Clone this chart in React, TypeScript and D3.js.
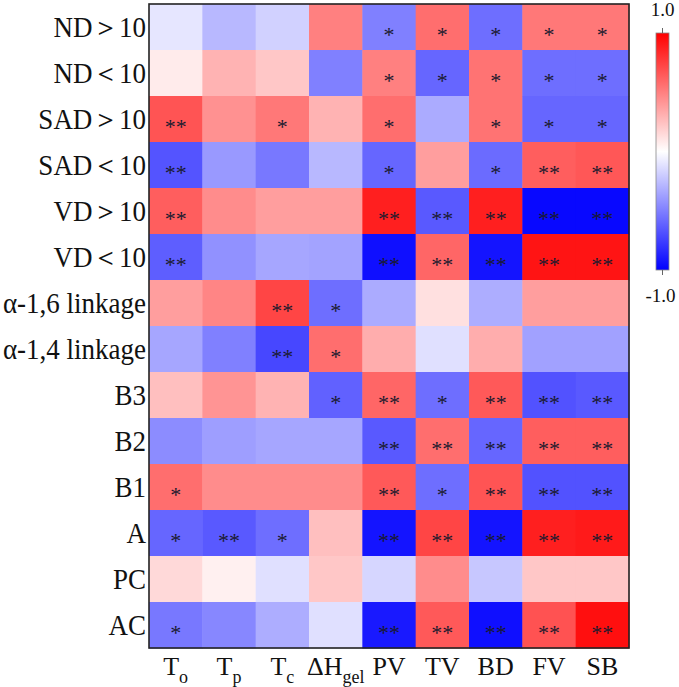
import React from "react";
import * as d3 from "d3";

const rowLabels = [
  "ND＞10", "ND＜10", "SAD＞10", "SAD＜10", "VD＞10", "VD＜10",
  "α-1,6 linkage", "α-1,4 linkage", "B3", "B2", "B1", "A", "PC", "AC",
];

const colLabels = [
  { main: "T", sub: "o" },
  { main: "T", sub: "p" },
  { main: "T", sub: "c" },
  { main: "ΔH", sub: "gel" },
  { main: "PV", sub: "" },
  { main: "TV", sub: "" },
  { main: "BD", sub: "" },
  { main: "FV", sub: "" },
  { main: "SB", sub: "" },
];

const values: number[][] = [
  [-0.1, -0.28, -0.18, 0.5, -0.5, 0.57, -0.57, 0.53, 0.53],
  [0.08, 0.3, 0.22, -0.5, 0.5, -0.6, 0.55, -0.57, -0.57],
  [0.67, 0.43, 0.53, 0.3, 0.57, -0.33, 0.55, -0.6, -0.6],
  [-0.67, -0.4, -0.53, -0.28, -0.6, 0.38, -0.58, 0.63, 0.66],
  [0.63, 0.45, 0.38, 0.38, 0.88, -0.65, 0.88, -0.97, -0.97],
  [-0.63, -0.43, -0.35, -0.36, -0.94, 0.6, -0.92, 0.92, 0.92],
  [0.38, 0.48, 0.73, -0.57, -0.33, 0.12, -0.32, 0.38, 0.38],
  [-0.35, -0.5, -0.72, 0.57, 0.32, -0.12, 0.32, -0.37, -0.37],
  [0.25, 0.42, 0.3, -0.62, 0.6, -0.57, 0.65, -0.68, -0.65],
  [-0.45, -0.38, -0.35, -0.35, -0.65, 0.57, -0.6, 0.63, 0.63],
  [0.57, 0.45, 0.45, 0.45, 0.65, -0.57, 0.67, -0.68, -0.68],
  [-0.6, -0.65, -0.57, 0.25, -0.92, 0.73, -0.92, 0.88, 0.9],
  [0.15, 0.06, -0.12, 0.22, -0.16, 0.45, -0.22, 0.22, 0.22],
  [-0.53, -0.47, -0.32, -0.12, -0.9, 0.65, -0.94, 0.68, 0.94],
];

const signif: string[][] = [
  ["", "", "", "", "*", "*", "*", "*", "*"],
  ["", "", "", "", "*", "*", "*", "*", "*"],
  ["**", "", "*", "", "*", "", "*", "*", "*"],
  ["**", "", "", "", "*", "", "*", "**", "**"],
  ["**", "", "", "", "**", "**", "**", "**", "**"],
  ["**", "", "", "", "**", "**", "**", "**", "**"],
  ["", "", "**", "*", "", "", "", "", ""],
  ["", "", "**", "*", "", "", "", "", ""],
  ["", "", "", "*", "**", "*", "**", "**", "**"],
  ["", "", "", "", "**", "**", "**", "**", "**"],
  ["*", "", "", "", "**", "*", "**", "**", "**"],
  ["*", "**", "*", "", "**", "**", "**", "**", "**"],
  ["", "", "", "", "", "", "", "", ""],
  ["*", "", "", "", "**", "**", "**", "**", "**"],
];

const legendTicks = ["1.0", "-1.0"];

const W = 679;
const H = 687;
const FONT = '"Liberation Serif", "Times New Roman", "DejaVu Serif", serif';
const tStyle = { fontFamily: FONT };

export default function App() {
  const left = 149, right = 629, top = 4, bottom = 648;
  const x = d3.scaleBand<number>().domain(d3.range(colLabels.length)).range([left, right]);
  const y = d3.scaleBand<number>().domain(d3.range(rowLabels.length)).range([top, bottom]);
  const color = d3
    .scaleLinear<string>()
    .domain([-1, 0, 1])
    .range(["#0000ff", "#ffffff", "#ff0000"])
    .interpolate(d3.interpolateRgb);

  const cbX = 656, cbW = 13, cbTop = 33, cbBottom = 270;
  const cbScale = d3.scaleLinear().domain([1, -1]).range([cbTop, cbBottom]);
  const stops = d3.range(0, 1.0001, 0.1);

  return (
    <svg
      width={W}
      height={H}
      style={{ position: "absolute", left: 0, top: 0, background: "#fff", fontFamily: FONT }}
    >
      <defs>
        <linearGradient id="cbGrad" x1="0" y1="0" x2="0" y2="1">
          {stops.map((t) => (
            <stop key={t} offset={t} stopColor={color(1 - 2 * t)} />
          ))}
        </linearGradient>
      </defs>
      {values.map((row, i) =>
        row.map((v, j) => (
          <rect
            key={`c${i}-${j}`}
            x={x(j)!}
            y={y(i)!}
            width={x.bandwidth() + 0.5}
            height={y.bandwidth() + 0.5}
            fill={color(v)}
          />
        ))
      )}
      {signif.map((row, i) =>
        row.map((s, j) =>
          s ? (
            <text
              key={`s${i}-${j}`}
              x={x(j)! + x.bandwidth() / 2}
              y={y(i)! + y.bandwidth() / 2 + 15}
              textAnchor="middle"
              fontSize={22}
              fill="#1a1a2e"
              style={tStyle}
            >
              {s}
            </text>
          ) : null
        )
      )}
      <rect
        x={left}
        y={top}
        width={right - left}
        height={bottom - top}
        fill="none"
        stroke="#222"
        strokeWidth={1.6}
      />
      {rowLabels.map((lab, i) => (
        <text
          key={`r${i}`}
          transform={`translate(146,${y(i)! + y.bandwidth() / 2 + 10}) scale(1,1.1)`}
          textAnchor="end"
          fontSize={27}
          fill="#111"
          style={tStyle}
        >
          {lab}
        </text>
      ))}
      {colLabels.map((c, j) => (
        <text
          key={`x${j}`}
          x={x(j)! + x.bandwidth() / 2}
          y={675}
          textAnchor="middle"
          fontSize={26}
          fill="#111"
          style={tStyle}
        >
          {c.main}
          {c.sub ? (
            <tspan dy={8} fontSize={18}>
              {c.sub}
            </tspan>
          ) : null}
        </text>
      ))}
      <rect x={cbX} y={cbTop} width={cbW} height={cbBottom - cbTop} fill="url(#cbGrad)" stroke="#888" strokeWidth={0.8} />
      <line x1={cbX + cbW / 2} x2={cbX + cbW / 2} y1={cbTop - 5} y2={cbTop} stroke="#666" />
      <line x1={cbX + cbW / 2} x2={cbX + cbW / 2} y1={cbBottom} y2={cbBottom + 5} stroke="#666" />
      <text x={cbX + cbW / 2} y={cbScale(1) - 17} textAnchor="middle" fontSize={19} fill="#111" style={tStyle}>
        {legendTicks[0]}
      </text>
      <text x={cbX + cbW / 2 - 2} y={cbScale(-1) + 32} textAnchor="middle" fontSize={19} fill="#111" style={tStyle}>
        {legendTicks[1]}
      </text>
    </svg>
  );
}
